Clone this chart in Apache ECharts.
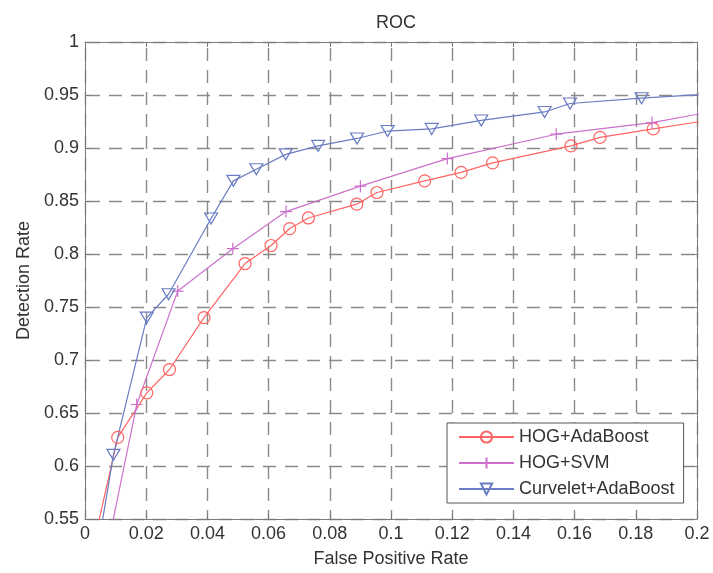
<!DOCTYPE html>
<html>
<head>
<meta charset="utf-8">
<script src="https://cdn.jsdelivr.net/npm/echarts@6/dist/echarts.min.js"></script>
<style>
html,body{margin:0;padding:0;background:#fff;}
#chart{width:713px;height:573px;}
</style>
</head>
<body>
<div id="chart"></div>
<script>
// ---- data ----
const seriesNames = ['HOG+AdaBoost', 'HOG+SVM', 'Curvelet+AdaBoost'];
const hogAdaBoost = [[0.000,0.490],[0.0107,0.627],[0.0202,0.669],[0.0276,0.691],[0.0389,0.740],[0.0523,0.791],[0.0608,0.808],[0.0669,0.824],[0.0730,0.834],[0.0888,0.847],[0.0954,0.858],[0.1110,0.869],[0.1229,0.877],[0.1332,0.886],[0.1588,0.902],[0.1683,0.910],[0.1857,0.918],[0.2100,0.929]];
const hogSVM = [[0.005,0.490],[0.0169,0.658],[0.0303,0.765],[0.0483,0.805],[0.0657,0.840],[0.0900,0.864],[0.1184,0.890],[0.1540,0.913],[0.1853,0.924],[0.2100,0.937]];
const curveletAdaBoost = [[0.0023,0.490],[0.0093,0.6105],[0.0202,0.740],[0.0273,0.762],[0.0412,0.8335],[0.0485,0.869],[0.0560,0.880],[0.0656,0.894],[0.0762,0.902],[0.0889,0.909],[0.0989,0.916],[0.1133,0.918],[0.1295,0.926],[0.1502,0.934],[0.1585,0.942],[0.1819,0.947],[0.2100,0.952]];
const xMin = 0, xMax = 0.2, xStep = 0.02;
const yMin = 0.55, yMax = 1, yStep = 0.05;

const FONT = '"Liberation Sans", Arial, sans-serif';
const txt = '#333';
const frame = '#7a7a7a';
const colors = ['#ff6464', '#cc70cc', '#6a7cc4'];

const chart = echarts.init(document.getElementById('chart'), null, {renderer:'canvas'});

const grid = {left:85, right:16, top:42, bottom:50, containLabel:false};
const splitV = {show:true, lineStyle:{color:'#8a8a8a', type:[13,9], dashOffset:16, width:1.4}};
const splitH = {show:true, lineStyle:{color:'#8a8a8a', type:[13,9], dashOffset:20, width:1.4}};
const tickIn = {show:true, inside:true, length:5, lineStyle:{color:frame}};

function mkSeries(name, data, color, symbol, size, extra) {
  return Object.assign({
    name: name, type:'line', data: data, clip:true,
    symbol: symbol, symbolSize: size, showAllSymbol:true,
    color: color,
    lineStyle:{color:color, width:1.2},
    itemStyle:{color:'rgba(0,0,0,0)', borderColor:color, borderWidth:1.2},
    emphasis:{disabled:true},
    animation:false, z:5
  }, extra||{});
}

chart.setOption({
  backgroundColor:'#fff',
  animation:false,
  title:{text:'ROC', left:391, top:9, textAlign:'center',
    textStyle:{fontFamily:FONT, fontSize:18, fontWeight:'normal', color:txt}},
  grid: grid,
  legend:{
    orient:'vertical', left:447, top:423,
    data: seriesNames,
    backgroundColor:'#fff', borderColor:'#555', borderWidth:1,
    padding:[5,9,5,11], itemGap:8, itemWidth:55, itemHeight:14,
    textStyle:{fontFamily:FONT, fontSize:18, color:txt},
    selectedMode:false
  },
  xAxis:[{
    type:'value', min:xMin, max:xMax, interval:xStep, position:'bottom',
    name:'False Positive Rate', nameLocation:'middle', nameGap:31,
    nameTextStyle:{fontFamily:FONT, fontSize:18, color:txt},
    axisLine:{show:true, onZero:false, lineStyle:{color:frame}},
    axisTick: tickIn,
    axisLabel:{fontFamily:FONT, fontSize:18, color:txt, margin:6},
    splitLine: splitV
  },{
    type:'value', min:xMin, max:xMax, interval:xStep, position:'top',
    axisLine:{show:true, onZero:false, lineStyle:{color:frame}},
    axisTick: tickIn, axisLabel:{show:false}, splitLine:{show:false}
  }],
  yAxis:[{
    type:'value', min:yMin, max:yMax, interval:yStep, position:'left',
    name:'Detection Rate', nameLocation:'middle', nameGap:52,
    nameTextStyle:{fontFamily:FONT, fontSize:18, color:txt},
    axisLine:{show:true, onZero:false, lineStyle:{color:frame}},
    axisTick: tickIn,
    axisLabel:{fontFamily:FONT, fontSize:18, color:txt, margin:6},
    splitLine: splitH
  },{
    type:'value', min:yMin, max:yMax, interval:yStep, position:'right',
    axisLine:{show:true, onZero:false, lineStyle:{color:frame}},
    axisTick: tickIn, axisLabel:{show:false}, splitLine:{show:false}
  }],
  series:[
    mkSeries(seriesNames[0], hogAdaBoost, colors[0], 'circle', 12),
    mkSeries(seriesNames[1], hogSVM, colors[1], 'path://M5,0L5,10M0,5L10,5', 12),
    mkSeries(seriesNames[2], curveletAdaBoost, colors[2], 'path://M0,0L12,0L6,10Z', [13,11])
  ]
});
</script>
</body>
</html>
